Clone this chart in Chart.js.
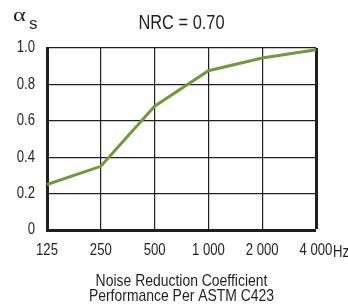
<!DOCTYPE html>
<html>
<head>
<meta charset="utf-8">
<script src="https://cdn.jsdelivr.net/npm/chart.js@4"></script>
<style>
  html, body { margin: 0; padding: 0; background: #fff; }
  #wrap { width: 348px; height: 307px; }
</style>
</head>
<body>
<div id="wrap"><canvas id="c" width="348" height="307"></canvas></div>
<script>
// values
const frequencies = ['125', '250', '500', '1 000', '2 000', '4 000'];
const absorption = [0.25, 0.35, 0.68, 0.875, 0.945, 0.99];
const yTicks = [0, 0.2, 0.4, 0.6, 0.8, 1.0];
const chartTitle = 'NRC = 0.70';
const axisTitle = ['Noise Reduction Coefficient', 'Performance Per ASTM C423'];

const SANS = "'Liberation Sans', Arial, sans-serif";
const INK = '#231f20';
const GREEN = '#6f9a40';
const NARROW = 0.82; // no condensed face installed, so squeeze the regular one

const canvas = document.getElementById('c');
const ctx0 = canvas.getContext('2d');
// condensed look: scale text horizontally round its anchor point
ctx0._fillTextRaw = ctx0.fillText;
ctx0.fillText = function (t, x, y, maxW) {
  this.save();
  this.translate(x, y);
  this.scale(NARROW, 1);
  this._fillTextRaw(t, 0, 0, maxW === undefined ? undefined : maxW / NARROW);
  this.restore();
};

// title, alpha-s label and the "Hz" unit after the last tick
const extraText = {
  id: 'extraText',
  afterDraw(chart) {
    const ctx = chart.ctx;
    const area = chart.chartArea;
    ctx.save();
    ctx.fillStyle = INK;
    ctx.textBaseline = 'alphabetic';

    ctx.font = '20px ' + SANS;
    ctx.textAlign = 'center';
    ctx.fillText(chartTitle, (area.left + area.right) / 2, 29);

    // alpha is wide in the original, stretch it a bit
    ctx.textAlign = 'left';
    ctx.font = "18px 'Liberation Serif', serif";
    ctx.save();
    ctx.translate(13, 21);
    ctx.scale(1.35, 1);
    ctx._fillTextRaw('α', 0, 0);
    ctx.restore();
    ctx.font = '17px ' + SANS;
    ctx._fillTextRaw('s', 29, 29);

    // unit after the last x label
    const xs = chart.scales.x;
    ctx.font = '16px ' + SANS;
    const last = frequencies[frequencies.length - 1];
    const px = xs.getPixelForValue(frequencies.length - 1);
    const w = ctx.measureText(last).width * NARROW;
    ctx.fillText('Hz', px + w / 2 + 0.5, 257);
    ctx.restore();
  }
};

new Chart(canvas, {
  type: 'line',
  data: {
    labels: frequencies,
    datasets: [{
      data: absorption,
      borderColor: GREEN,
      borderWidth: 3,
      pointRadius: 0,
      tension: 0,
      fill: false
    }]
  },
  options: {
    responsive: false,
    animation: false,
    layout: { padding: { top: 48, right: 32, left: 0, bottom: 0 } },
    plugins: {
      legend: { display: false },
      tooltip: { enabled: false },
      title: { display: false }
    },
    scales: {
      x: {
        type: 'category',
        offset: false,
        afterFit(scale) { scale.height = 77; },
        grid: {
          offset: false,
          drawTicks: false,
          color: INK,
          lineWidth: (c) => c.index === frequencies.length - 1 ? 3 : (c.index === 0 ? 0 : 1.2)
        },
        border: { display: true, color: INK, width: 3 },
        ticks: {
          color: INK,
          font: { family: SANS, size: 16 },
          padding: 11,
          maxRotation: 0,
          autoSkip: false
        },
        title: {
          display: true,
          text: axisTitle,
          color: INK,
          font: { family: SANS, size: 17, lineHeight: '15px' },
          padding: { top: 0, bottom: 3 }
        }
      },
      y: {
        min: 0,
        max: 1,
        afterFit(scale) { scale.width = 47; },
        afterBuildTicks(scale) { scale.ticks = yTicks.map(v => ({ value: v })); },
        grid: {
          drawTicks: false,
          color: INK,
          lineWidth: (c) => c.index === 0 ? 0 : 1.2
        },
        border: { display: true, color: INK, width: 3 },
        ticks: {
          color: INK,
          font: { family: SANS, size: 16 },
          padding: 12,
          callback: (v) => v === 0 ? '0' : Number(v).toFixed(1)
        }
      }
    }
  },
  plugins: [extraText]
});
</script>
</body>
</html>
